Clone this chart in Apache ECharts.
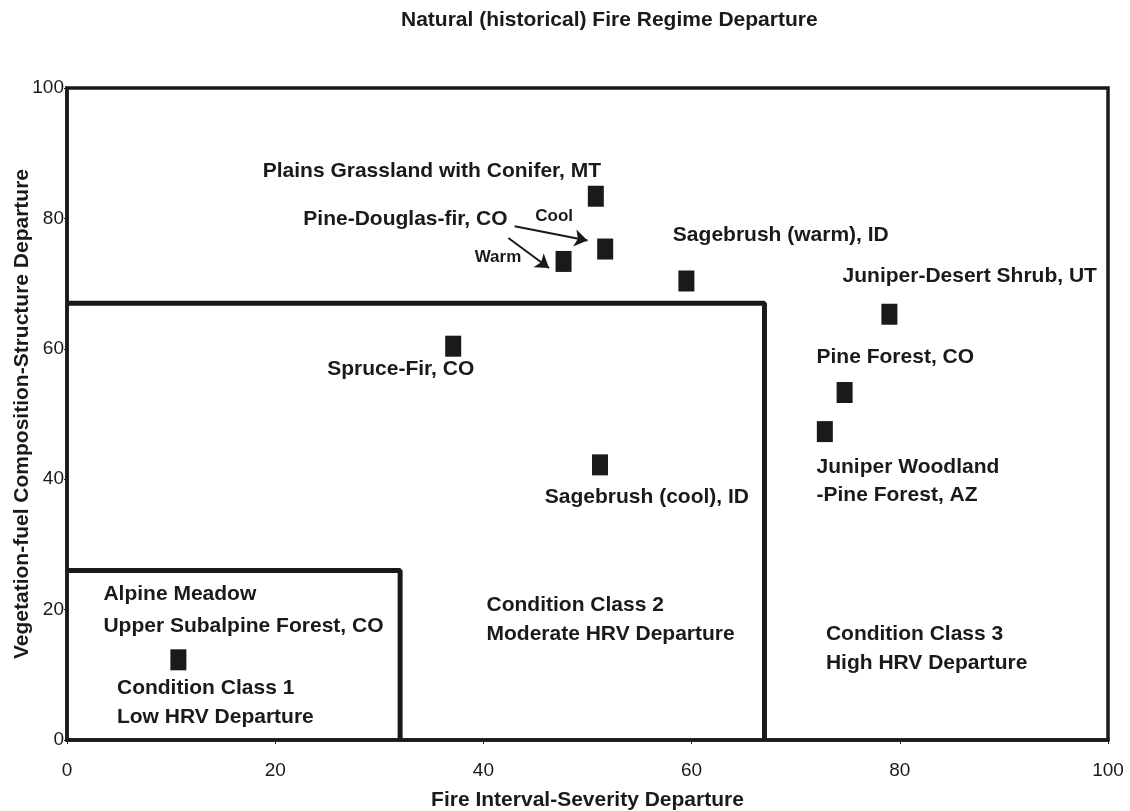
<!DOCTYPE html>
<html>
<head>
<meta charset="utf-8">
<script src="https://cdn.jsdelivr.net/npm/echarts@6/dist/echarts.min.js"></script>
<style>html,body{margin:0;padding:0;background:#fff;}#c{width:1130px;height:811px;}</style>
</head>
<body>
<div id="c"></div>
<script>
// Data points (Fire Interval-Severity Departure, Vegetation-fuel Composition-Structure Departure)
const pointNames = ['Alpine Meadow / Upper Subalpine Forest, CO','Spruce-Fir, CO','Sagebrush (cool), ID','Pine-Douglas-fir, CO (warm)','Pine-Douglas-fir, CO (cool)','Plains Grassland with Conifer, MT','Sagebrush (warm), ID','Juniper-Desert Shrub, UT','Pine Forest, CO','Juniper Woodland-Pine Forest, AZ'];
const pointX = [10.7, 37.1, 51.2, 47.7, 51.7, 50.8, 59.5, 79.0, 74.7, 72.8];
const pointY = [12.3, 60.4, 42.2, 73.4, 75.3, 83.4, 70.4, 65.3, 53.3, 47.3];

// Condition class boundaries
const class1Box = [[0, 26], [32, 26], [32, 0]];
const class2Box = [[0, 67], [67, 67], [67, 0]];

// Annotation texts (left-aligned start, in data units)
const labelText = ['Plains Grassland with Conifer, MT','Pine-Douglas-fir, CO','Sagebrush (warm), ID','Juniper-Desert Shrub, UT','Spruce-Fir, CO','Pine Forest, CO','Juniper Woodland','-Pine Forest, AZ','Sagebrush (cool), ID','Alpine Meadow','Upper Subalpine Forest, CO','Condition Class 1','Low HRV Departure','Condition Class 2','Moderate HRV Departure','Condition Class 3','High HRV Departure'];
const labelX = [18.8, 22.7, 58.2, 74.5, 25.0, 72.0, 72.0, 72.0, 45.9, 3.5, 3.5, 4.8, 4.8, 40.3, 40.3, 72.9, 72.9];
const labelY = [87.3, 79.9, 77.4, 71.1, 56.8, 58.7, 41.8, 37.6, 37.2, 22.3, 17.4, 8.0, 3.5, 20.7, 16.3, 16.3, 11.8];

// Small arrow labels
const smallText = ['Cool', 'Warm'];
const smallX = [46.8, 41.4];
const smallY = [80.3, 74.0];

// Arrows [from, to]
const arrows = [[[43.0, 78.8], [50.0, 76.6]], [[42.4, 77.0], [46.3, 72.4]]];

const xTicks = [0, 20, 40, 60, 80, 100];
const yTicks = [0, 20, 40, 60, 80, 100];

const FONT = '"Liberation Sans", Arial, sans-serif';
const INK = '#1a1a1a';

const chart = echarts.init(document.getElementById('c'), null, {renderer: 'canvas'});
chart.setOption({
  animation: false,
  backgroundColor: '#fff',
  title: {
    text: 'Natural (historical) Fire Regime Departure',
    left: 396, top: 5,
    textStyle: {fontFamily: FONT, fontSize: 21, fontWeight: 'bold', color: INK}
  },
  grid: {left: 67, right: 22, top: 88, bottom: 71, containLabel: false, outerBoundsMode: 'none',
    show: true, borderColor: INK, borderWidth: 3.5, backgroundColor: 'transparent'},
  xAxis: {
    type: 'value', min: xTicks[0], max: xTicks[xTicks.length - 1], interval: 20,
    name: 'Fire Interval-Severity Departure', nameLocation: 'middle', nameGap: 50, nameMoveOverlap: false,
    nameTextStyle: {fontFamily: FONT, fontSize: 21, fontWeight: 'bold', color: INK},
    axisLine: {lineStyle: {color: INK, width: 3.5}},
    axisTick: {length: 4, lineStyle: {color: INK}},
    splitLine: {show: false},
    axisLabel: {fontFamily: FONT, fontSize: 19, color: INK, margin: 21}
  },
  yAxis: {
    type: 'value', min: yTicks[0], max: yTicks[yTicks.length - 1], interval: 20,
    name: 'Vegetation-fuel Composition-Structure Departure', nameLocation: 'middle', nameGap: 34, nameMoveOverlap: false,
    nameTextStyle: {fontFamily: FONT, fontSize: 21, fontWeight: 'bold', color: INK},
    axisLine: {lineStyle: {color: INK, width: 3.5}},
    axisTick: {length: 3, lineStyle: {color: INK}},
    splitLine: {show: false},
    axisLabel: {fontFamily: FONT, fontSize: 19, color: INK, margin: 3}
  },
  series: [
    {type: 'line', data: class1Box, symbol: 'none', silent: true, lineStyle: {color: INK, width: 5}, z: 3},
    {type: 'line', data: class2Box, symbol: 'none', silent: true, lineStyle: {color: INK, width: 5}, z: 3},
    {
      type: 'scatter', symbol: 'rect', symbolSize: [16, 21],
      itemStyle: {color: INK, opacity: 1},
      data: pointX.map((x, i) => ({name: pointNames[i], value: [x, pointY[i]]})),
      z: 5
    },
    {
      type: 'lines', coordinateSystem: 'cartesian2d', polyline: false,
      symbol: ['none', 'arrow'], symbolSize: 13,
      lineStyle: {color: INK, width: 2, opacity: 1},
      data: arrows.map(a => ({coords: a})),
      z: 4
    },
    {
      type: 'scatter', symbolSize: 0, silent: true,
      itemStyle: {opacity: 1},
      data: labelX.map((x, i) => ({value: [x, labelY[i]], label: {formatter: labelText[i]}})),
      label: {show: true, position: 'inside', align: 'left', verticalAlign: 'middle', opacity: 1,
        fontFamily: FONT, fontSize: 21, fontWeight: 'bold', color: INK},
      z: 6
    },
    {
      type: 'scatter', symbolSize: 0, silent: true,
      itemStyle: {opacity: 1},
      data: smallX.map((x, i) => ({value: [x, smallY[i]], label: {formatter: smallText[i]}})),
      label: {show: true, position: 'inside', align: 'center', verticalAlign: 'middle', opacity: 1,
        fontFamily: FONT, fontSize: 17, fontWeight: 'bold', color: INK},
      z: 6
    }
  ]
});
</script>
</body>
</html>
